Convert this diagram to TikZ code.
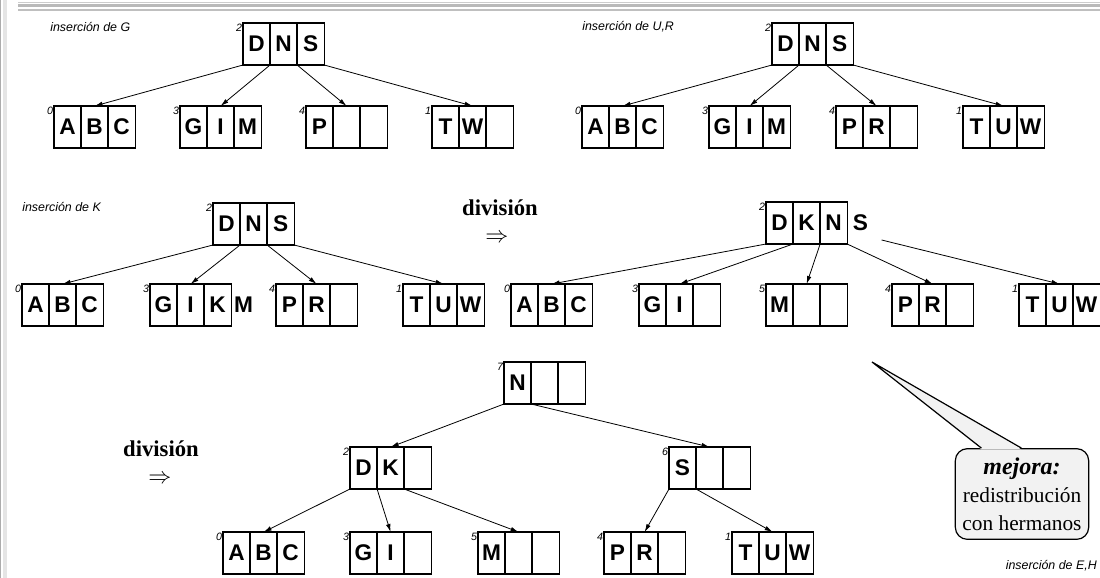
\documentclass[tikz,border=0pt]{standalone}
\usepackage{fontspec}
\setmainfont{Liberation Serif}
\setsansfont{Liberation Sans}
\usetikzlibrary{positioning,arrows.meta}

\tikzset{
  celda/.style={draw, line width=1pt, minimum width=20.3pt, minimum height=31.5pt,
    inner sep=0pt, outer sep=0pt, font=\sffamily\bfseries\fontsize{17}{17}\selectfont},
  suelta/.style={inner sep=0pt, font=\sffamily\bfseries\fontsize{17}{17}\selectfont},
  numero/.style={anchor=north east, inner sep=0.6pt, font=\sffamily\itshape\fontsize{8}{8}\selectfont},
  titulo/.style={anchor=west, inner sep=0pt, font=\sffamily\itshape\fontsize{9.3}{9.3}\selectfont},
  hijo/.style={-{Latex[length=6pt,width=3.4pt]}, line width=0.6pt},
  division/.style={inner sep=0pt, font=\bfseries\fontsize{17}{17}\selectfont},
  marco/.style={line width=#1},
}

% pagina: nombre, x, y (esquina sup. izq.), numero, tres claves
\newcommand{\pagina}[7]{%
  \node[celda, anchor=north west] (#1-1) at (#2,#3) {#5};
  \node[celda, right=0pt of #1-1] (#1-2) {#6};
  \node[celda, right=0pt of #1-2] (#1-3) {#7};
  \node[numero] (#1-n) at (#1-1.north west) {#4};
}

\begin{document}
\begin{tikzpicture}[x=0.75pt, y=-0.75pt]
  \useasboundingbox (0,0) rectangle (1100,578);
  % marco de la hoja
  \draw[gray!40, marco=0.9pt] (18,2.6) -- (1100,2.6);
  \draw[gray!55, marco=2pt] (18,5.8) -- (1100,5.8);
  \draw[gray!50, marco=1.5pt] (18,10.2) -- (1100,10.2);
  \draw[gray!65, marco=1pt] (0.7,0) -- (0.7,578);
  \draw[gray!20, marco=3.4pt] (5,0) -- (5,578);

  % insercion de G
  \node[titulo] (tg) at (50,27) {inserción de G};
  \pagina{r1}{243}{23}{2}{D}{N}{S}
  \pagina{a1}{54}{106}{0}{A}{B}{C}
  \pagina{g1}{180}{106}{3}{G}{I}{M}
  \pagina{p1}{306}{106}{4}{P}{}{}
  \pagina{t1}{432}{106}{1}{T}{W}{}
  \draw[hijo] (r1-1.south west) -- (a1-2.north);
  \draw[hijo] (r1-1.south east) -- (g1-2.north);
  \draw[hijo] (r1-2.south east) -- (p1-2.north);
  \draw[hijo] (r1-3.south east) -- (t1-2.north);

  % insercion de U,R
  \node[titulo] (tur) at (582,27) {inserción de U,R};
  \pagina{r2}{772}{23}{2}{D}{N}{S}
  \pagina{a2}{582}{106}{0}{A}{B}{C}
  \pagina{g2}{709}{106}{3}{G}{I}{M}
  \pagina{p2}{836}{106}{4}{P}{R}{}
  \pagina{t2}{963}{106}{1}{T}{U}{W}
  \draw[hijo] (r2-1.south west) -- (a2-2.north);
  \draw[hijo] (r2-1.south east) -- (g2-2.north);
  \draw[hijo] (r2-2.south east) -- (p2-2.north);
  \draw[hijo] (r2-3.south east) -- (t2-2.north);

  % insercion de K
  \node[titulo] (tk) at (22,207) {inserción de K};
  \pagina{r3}{213}{203}{2}{D}{N}{S}
  \pagina{a3}{22}{284}{0}{A}{B}{C}
  \pagina{g3}{150}{284}{3}{G}{I}{K}
  \node[suelta, right=2pt of g3-3] (m3) {M};
  \pagina{p3}{276}{284}{4}{P}{R}{}
  \pagina{t3}{403}{284}{1}{T}{U}{W}
  \draw[hijo] (r3-1.south west) -- (a3-2.north);
  \draw[hijo] (r3-1.south east) -- (g3-2.north);
  \draw[hijo] (r3-2.south east) -- (p3-2.north);
  \draw[hijo] (r3-3.south east) -- (t3-2.north);

  \node[division] (div1) at (500,208) {división};
  \node[division] (imp1) at (497,238) {$\Rightarrow$};

  \pagina{r4}{766}{202}{2}{D}{K}{N}
  \node[suelta, right=4pt of r4-3] (s4) {S};
  \coordinate (s4e) at ([xshift=10pt,yshift=-6.5pt]s4.south east);
  \pagina{a4}{511}{284}{0}{A}{B}{C}
  \pagina{g4}{639}{284}{3}{G}{I}{}
  \pagina{m4}{766}{284}{5}{M}{}{}
  \pagina{p4}{892}{284}{4}{P}{R}{}
  \pagina{t4}{1019}{284}{1}{T}{U}{W}
  \draw[hijo] (r4-1.south west) -- (a4-2.north);
  \draw[hijo] (r4-1.south east) -- (g4-2.north);
  \draw[hijo] (r4-2.south east) -- (m4-2.north);
  \draw[hijo] (r4-3.south east) -- (p4-2.north);
  \draw[hijo] (s4e) -- (t4-2.north);

  % segunda division
  \node[division] (div2) at (161,449) {división};
  \node[division] (imp2) at (160,479) {$\Rightarrow$};
  \pagina{n5}{504}{362}{7}{N}{}{}
  \pagina{d5}{350}{447}{2}{D}{K}{}
  \pagina{s5}{669}{447}{6}{S}{}{}
  \pagina{a5}{223}{532}{0}{A}{B}{C}
  \pagina{g5}{350}{532}{3}{G}{I}{}
  \pagina{m5}{478}{532}{5}{M}{}{}
  \pagina{p5}{604}{532}{4}{P}{R}{}
  \pagina{t5}{732}{532}{1}{T}{U}{W}
  \draw[hijo] (n5-1.south west) -- (d5-2.north);
  \draw[hijo] (n5-1.south east) -- (s5-2.north);
  \draw[hijo] (d5-1.south west) -- (a5-2.north);
  \draw[hijo] (d5-1.south east) -- (g5-2.north);
  \draw[hijo] (d5-2.south east) -- (m5-2.north);
  \draw[hijo] (s5-1.south west) -- (p5-2.north);
  \draw[hijo] (s5-1.south east) -- (t5-2.north);

  % globo
  \node[draw, line width=0.9pt, fill=gray!10, rounded corners=9pt, minimum width=100pt,
    minimum height=68pt, inner sep=0pt, align=center,
    font=\fontsize{16}{21}\selectfont] (globo) at (1022,494)
    {{\fontsize{18}{21}\selectfont\bfseries\itshape mejora:}\\redistribución\\con hermanos};
  \coordinate (punta) at (872,362);
  \fill[gray!10] (punta) -- ([xshift=20pt,yshift=-1pt]globo.north west)
    -- ([xshift=50pt,yshift=-1pt]globo.north west) -- cycle;
  \draw[line width=0.9pt] ([xshift=20pt]globo.north west) -- (punta)
    -- ([xshift=50pt]globo.north west);

  \node[titulo, anchor=east] (teh) at (1097,566) {inserción de E,H};
\end{tikzpicture}
\end{document}
